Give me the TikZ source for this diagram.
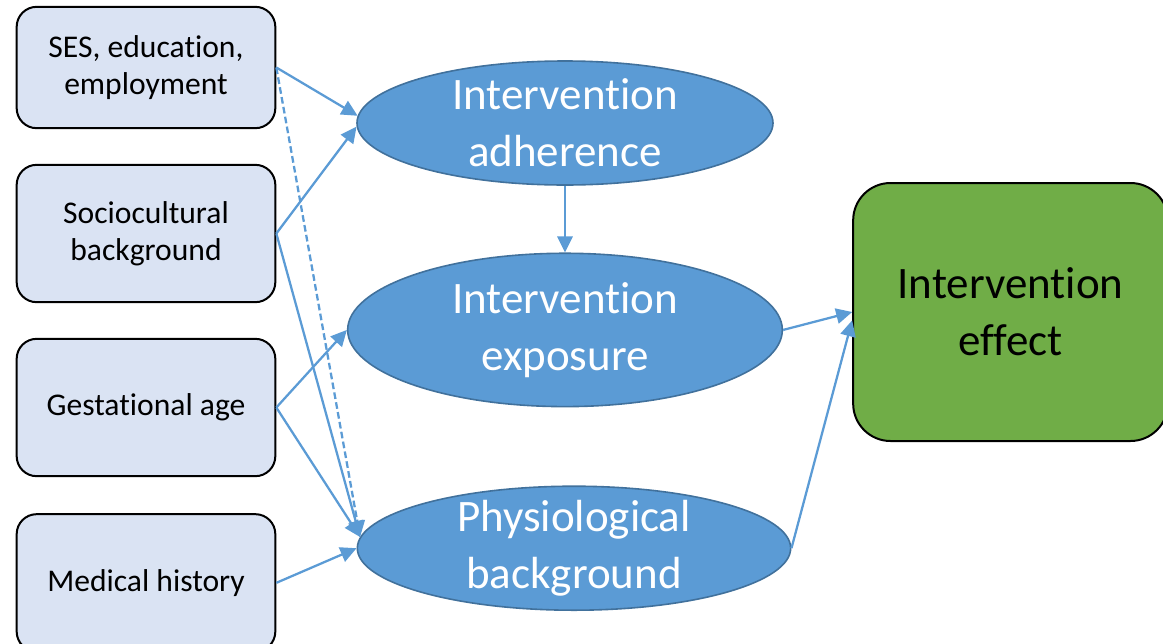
\documentclass[tikz,border=0pt]{standalone}
\usepackage{fontspec}
\setmainfont{Carlito}[Ligatures = NoCommon]
\usepackage{tikz}
\usetikzlibrary{positioning, shapes.geometric, arrows.meta}
\definecolor{factorfill}{HTML}{DAE3F3}
\definecolor{mediatorfill}{HTML}{5B9BD5}
\definecolor{mediatordraw}{HTML}{41719C}
\definecolor{outcomefill}{HTML}{70AD47}
\definecolor{linkblue}{HTML}{5B9BD5}
\tikzstyle{factor} = [
    rectangle,
    draw,
    line width = 1.5pt,
    fill = factorfill,
    text centered,
    align = center,
    rounded corners = 15pt,
    font = \fontsize{23.7}{28}\selectfont,
    minimum width = 194pt,
    minimum height = 103pt
]
\tikzstyle{mediator} = [
    ellipse,
    draw = mediatordraw,
    line width = 1.2pt,
    fill = mediatorfill,
    inner sep = 0pt,
    minimum width = 312pt,
    minimum height = 93pt
]
\tikzstyle{mediatortext} = [
    text = white,
    align = center,
    font = \fontsize{33.75}{42.75}\selectfont
]
\tikzstyle{outcome} = [
    rectangle,
    draw,
    line width = 1.5pt,
    fill = outcomefill,
    align = center,
    rounded corners = 28pt,
    font = \fontsize{33.75}{42.75}\selectfont,
    minimum width = 236pt,
    minimum height = 193.5pt
]
\tikzstyle{link} = [
    draw = linkblue,
    line width = 1.7pt,
    -{Triangle[length = 12pt, width = 11.5pt]}
]
\tikzstyle{maybe} = [
    dash pattern = on 5pt off 2.5pt
]
\begin{document}
\begin{tikzpicture}[x = 0.75pt, y = -0.75pt]

                \useasboundingbox (0,0) rectangle (1163,643);

                % factors
                \node [factor, minimum height = 91pt] (ses) at (146,67.5) {SES, education,\\employment};
                \node [factor, below = 26pt of ses] (socio) {Sociocultural\\background};
                \node [factor, below = 26pt of socio] (gest) {Gestational age};
                \node [factor, below = 27pt of gest] (med) {Medical history};

                % mediators
                \node [mediator] (adh) at (565,123) {};
                \node [mediator, below = 50pt of adh, minimum width = 326pt, minimum height = 115pt] (expo) {};
                \node [mediator, below = 58.5pt of expo, xshift = 6.75pt, minimum width = 325pt] (phys) {};
                \node [mediatortext] (adhText) at (adh) {Intervention\\adherence};
                \node [mediatortext] (expoText) at (expo) {Intervention\\exposure};
                \node [mediatortext] (physText) at (phys) {Physiological\\background};

                % outcome
                \node [outcome] (eff) at (1010.5,312) {Intervention\\effect};

                % links
                \draw [link] (ses.east) -- (adh.178);
                \draw [link] (socio.east) -- (adh.181);
                \draw [link, maybe] (ses.east) -- (phys.177);
                \draw [link] (socio.east) -- (phys.177);
                \draw [link] (gest.east) -- (expo.west);
                \draw [link] (gest.east) -- (phys.177);
                \draw [link] (med.east) -- (phys.180);
                \draw [link] (adh.south) -- (expo.north);
                \draw [link] (expo.east) -- (eff.west);
                \draw [link] (phys.east) -- (eff.183);

            \end{tikzpicture}
\end{document}
